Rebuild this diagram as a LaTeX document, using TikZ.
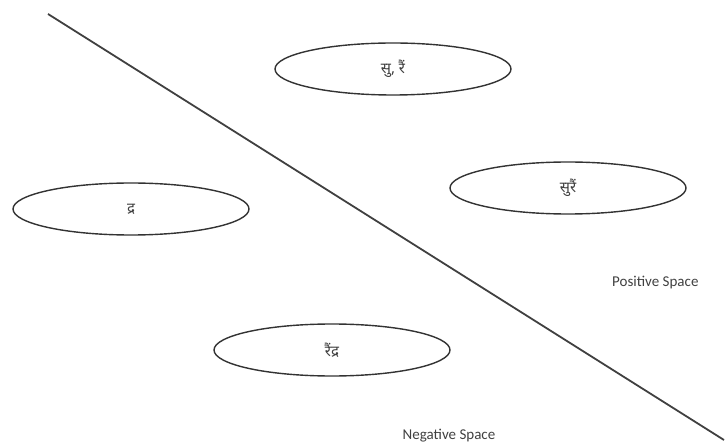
\documentclass[tikz,border=0pt]{standalone}
\usepackage{fontspec}
\setmainfont{Carlito}
\newfontfamily\devafont[Script=Devanagari]{Noto Sans}
\usetikzlibrary{shapes.geometric,positioning}

\begin{document}
\begin{tikzpicture}[
    x=1pt, y=-1pt,
    partbox/.style={draw=black!80, line width=1.4pt, ellipse, fill=white,
      minimum width=236pt, minimum height=52pt, inner sep=0pt,
      font=\devafont\fontsize{15}{18}\selectfont, text=black!75},
    spacelabel/.style={font=\fontsize{15}{17}\selectfont, text=black!75, inner sep=0pt}
  ]
  \useasboundingbox (0,0) rectangle (727,443);

  %% --- dividing line ---
  \coordinate (divtop) at (48,14);
  \coordinate (divbot) at (724,440);
  \draw[line width=1.8pt, black!75] (divtop) -- (divbot);

  %% --- syllable parts ---
  \node[partbox] (su) at (393,69) {सु, रैं};
  \node[partbox] (sure) at (568,188) {सुरैं};
  \node[partbox] (dra) at (131,209) {द्र};
  \node[partbox] (rendra) at (332,350) {रैंद्र};

  %% --- labels ---
  \node[spacelabel, anchor=west] (pos) at (612,283) {Positive Space};
  \node[spacelabel] (neg) at (449,436) {Negative Space};
\end{tikzpicture}
\end{document}
